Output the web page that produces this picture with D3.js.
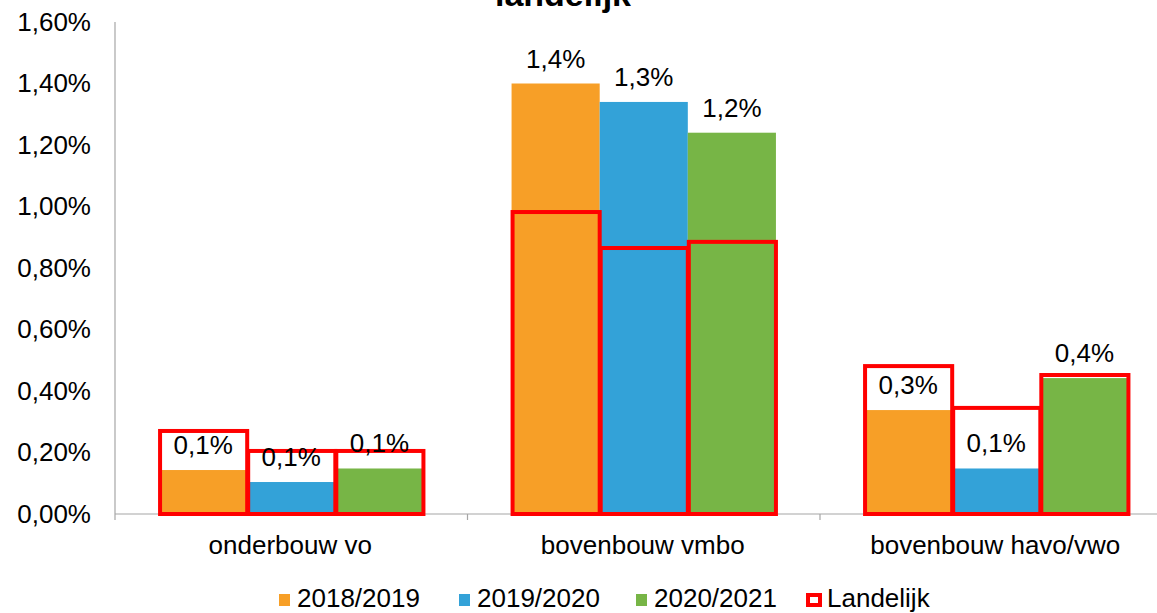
<!DOCTYPE html>
<html>
<head>
<meta charset="utf-8">
<script src="https://cdn.jsdelivr.net/npm/d3@7"></script>
<style>
  body { margin: 0; background: #fff; }
  svg { display: block; font-family: Arial, "Liberation Sans", sans-serif; }
</style>
</head>
<body>
<div id="chart"></div>
<script>
// ---------------- data ----------------
var categories = ["onderbouw vo", "bovenbouw vmbo", "bovenbouw havo/vwo"];
var seriesNames = ["2018/2019", "2019/2020", "2020/2021"];
var seriesColors = ["#F79F27", "#33A2D8", "#77B546"];
// percentages per series, one value per category
var values2018 = [0.143, 1.40, 0.338];
var values2019 = [0.104, 1.34, 0.148];
var values2020 = [0.148, 1.24, 0.442];
// national reference (red outlines)
var landelijk2018 = [0.27, 0.982, 0.481];
var landelijk2019 = [0.205, 0.865, 0.345];
var landelijk2020 = [0.205, 0.885, 0.452];
var yTicks = [0, 0.2, 0.4, 0.6, 0.8, 1.0, 1.2, 1.4, 1.6];
var title = "landelijk";

// ---------------- layout ----------------
var W = 1157, H = 613;
var plotLeft = 115, plotTop = 22, plotBottom = 514;
var catStep = 352.5;

var svg = d3.select("#chart").append("svg")
    .attr("width", W)
    .attr("height", H);

var x0 = d3.scaleBand()
    .domain(categories)
    .range([plotLeft, plotLeft + catStep * categories.length])
    .paddingInner(0).paddingOuter(0);

var x1 = d3.scaleBand()
    .domain(seriesNames)
    .range([0, x0.bandwidth()])
    .paddingInner(0).paddingOuter(0.5);

var y = d3.scaleLinear().domain([0, 1.6]).range([plotBottom, plotTop]);

var fmtTick = function(d){ return d.toFixed(2).replace(".", ",") + "%"; };
var fmtLabel = function(d){ return d.toFixed(1).replace(".", ",") + "%"; };

var values = [values2018, values2019, values2020];
var landelijk = [landelijk2018, landelijk2019, landelijk2020];

// build flat lists for drawing
var bars = [], outlines = [];
categories.forEach(function(c, ci){
    seriesNames.forEach(function(s, si){
        bars.push({cat: c, ser: s, v: values[si][ci], color: seriesColors[si]});
        outlines.push({cat: c, ser: s, v: landelijk[si][ci]});
    });
});

//TITLE (top is cut off in the original)
svg.append("text")
    .attr("x", 563).attr("y", 6)
    .attr("text-anchor", "middle")
    .attr("font-size", 34).attr("font-weight", "bold")
    .text(title);

//Y AXIS
var yAxis = svg.append("g")
    .attr("transform", "translate(" + plotLeft + ",0)")
    .call(d3.axisLeft(y).tickValues(yTicks).tickSize(0).tickPadding(24).tickFormat(fmtTick));
yAxis.select(".domain").remove();
yAxis.selectAll("text").attr("font-size", 26).attr("fill", "#000")
    .attr("font-family", "Arial, 'Liberation Sans', sans-serif");

svg.append("line")
    .attr("x1", plotLeft).attr("x2", plotLeft)
    .attr("y1", plotTop).attr("y2", plotBottom + 6)
    .attr("stroke", "#a6a6a6").attr("stroke-width", 1.2);

//COLOURED BARS
svg.selectAll("rect.bar")
    .data(bars)
    .enter()
        .append("rect")
        .attr("class", "bar")
        .attr("x", function(d){ return x0(d.cat) + x1(d.ser); })
        .attr("width", x1.bandwidth())
        .attr("y", function(d){ return y(d.v); })
        .attr("height", function(d){ return plotBottom - y(d.v); })
        .attr("fill", function(d){ return d.color; });

//X AXIS LINE + category boundary ticks
svg.append("line")
    .attr("x1", plotLeft).attr("x2", W)
    .attr("y1", plotBottom).attr("y2", plotBottom)
    .attr("stroke", "#a6a6a6").attr("stroke-width", 1.2);

svg.selectAll("line.catTick")
    .data(categories.slice(1))
    .enter()
        .append("line")
        .attr("class", "catTick")
        .attr("x1", function(d){ return x0(d); })
        .attr("x2", function(d){ return x0(d); })
        .attr("y1", plotBottom).attr("y2", plotBottom + 6)
        .attr("stroke", "#a6a6a6").attr("stroke-width", 1.2);

//LANDELIJK OUTLINES
svg.selectAll("rect.land")
    .data(outlines)
    .enter()
        .append("rect")
        .attr("class", "land")
        .attr("x", function(d){ return x0(d.cat) + x1(d.ser) + 1; })
        .attr("width", x1.bandwidth() - 1)
        .attr("y", function(d){ return y(d.v); })
        .attr("height", function(d){ return plotBottom - y(d.v); })
        .attr("fill", "none")
        .attr("stroke", "#ff0000")
        .attr("stroke-width", 4);

//DATA LABELS
svg.selectAll("text.val")
    .data(bars)
    .enter()
        .append("text")
        .attr("class", "val")
        .attr("x", function(d){ return x0(d.cat) + x1(d.ser) + x1.bandwidth() / 2; })
        .attr("y", function(d){ return y(d.v) - 16; })
        .attr("text-anchor", "middle")
        .attr("font-size", 26)
        .text(function(d){ return fmtLabel(d.v); });

//CATEGORY LABELS
svg.selectAll("text.cat")
    .data(categories)
    .enter()
        .append("text")
        .attr("class", "cat")
        .attr("x", function(d){ return x0(d) + x0.bandwidth() / 2 - 1; })
        .attr("y", 554)
        .attr("text-anchor", "middle")
        .attr("font-size", 26)
        .text(function(d){ return d; });

//LEGEND
var legendItems = seriesNames.map(function(s, i){ return {name: s, color: seriesColors[i], box: false}; });
legendItems.push({name: "Landelijk", color: "#ff0000", box: true});
var legendX = [279, 459, 636, 806];

var lg = svg.selectAll("g.legend")
    .data(legendItems)
    .enter()
        .append("g")
        .attr("class", "legend")
        .attr("transform", function(d, i){ return "translate(" + legendX[i] + ",0)"; });

lg.append("rect")
    .attr("x", function(d){ return d.box ? 2 : 0; })
    .attr("y", function(d){ return d.box ? 595 : 594; })
    .attr("width", function(d){ return d.box ? 12 : 11; })
    .attr("height", function(d){ return d.box ? 10 : 12; })
    .attr("fill", function(d){ return d.box ? "#fff" : d.color; })
    .attr("stroke", function(d){ return d.box ? d.color : "none"; })
    .attr("stroke-width", 4);

lg.append("text")
    .attr("x", function(d){ return d.box ? 21 : 18; })
    .attr("y", 607)
    .attr("font-size", 26)
    .text(function(d){ return d.name; });
</script>
</body>
</html>
